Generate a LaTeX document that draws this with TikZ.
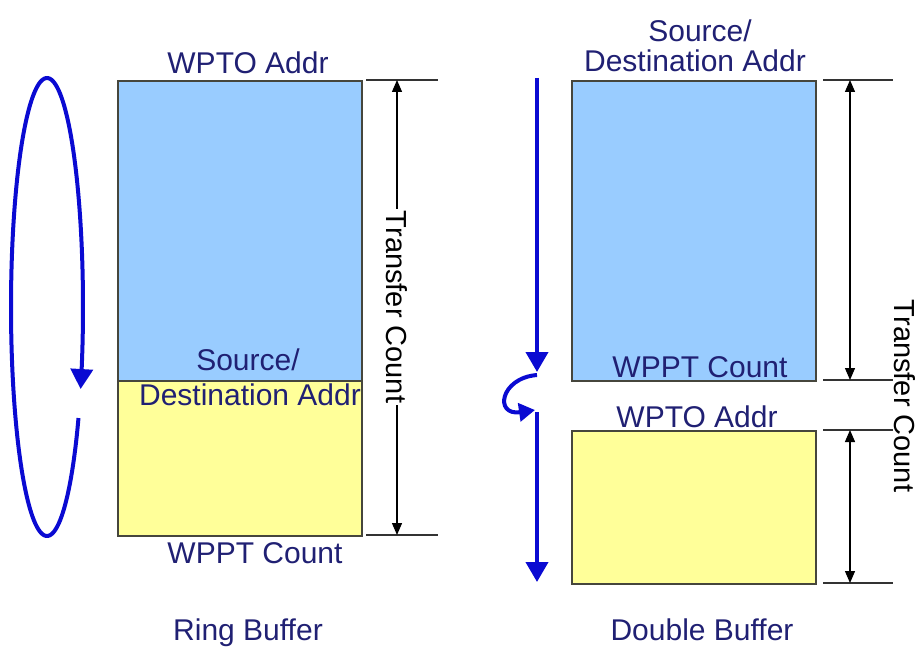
\documentclass[tikz,border=0pt]{standalone}
\usepackage{fontspec}
\setmainfont{Liberation Sans}
\usetikzlibrary{arrows.meta}
\definecolor{blueF}{HTML}{99CCFF}
\definecolor{yellowF}{HTML}{FFFF99}
\definecolor{navy}{RGB}{32,32,115}
\definecolor{flow}{RGB}{10,10,210}
\definecolor{edge}{RGB}{70,70,60}
\begin{document}
\begin{tikzpicture}[x=1pt,y=-1pt,
  buf/.style={draw=edge, line width=1.6pt, anchor=north west, inner sep=0pt},
  lbl/.style={text=navy, font=\fontsize{30}{36}\selectfont, anchor=base, inner sep=0pt},
  dimtxt/.style={text=black, font=\fontsize{29}{34}\selectfont, rotate=-90, inner sep=2pt},
  ext/.style={draw=black!80, line width=1.3pt},
  dimarrow/.style={draw=black, line width=1.3pt, {Triangle[width=10pt,length=12pt]}-{Triangle[width=10pt,length=12pt]}},
  flowline/.style={draw=flow, line width=4pt, -{Triangle[width=22pt,length=20pt]}},
  hookline/.style={draw=flow, line width=4pt, -{Triangle[width=18pt,length=16pt]}}
]
\useasboundingbox (0,0) rectangle (924,650);

% ---------- Ring buffer ----------
\node[buf, fill=blueF, minimum width=244pt, minimum height=300pt] (rtop) at (117,80) {};
\node[buf, fill=yellowF, minimum width=244pt, minimum height=155pt] (rbot) at (117,380) {};

\node[lbl] (rwpto) at (248,74) {WPTO Addr};
\node[lbl] (rsrc) at (248,370) {Source/};
\node[lbl] (rdst) at (250,405) {Destination Addr};
\node[lbl] (rwppt) at (255,563) {WPPT Count};
\node[lbl] (rname) at (248,640) {Ring Buffer};

\coordinate (rl1a) at (366,80);  \coordinate (rl1b) at (438,80);
\coordinate (rl2a) at (366,535); \coordinate (rl2b) at (438,535);
\coordinate (rda) at (397,80);   \coordinate (rdb) at (397,535);
\draw[ext] (rl1a) -- (rl1b);
\draw[ext] (rl2a) -- (rl2b);
\draw[dimarrow] (rda) -- (rdb);
\node[dimtxt, fill=white] (rtc) at (397,307) {Transfer Count};

% ring loop
\draw[flowline] plot[domain=29:381, samples=160, smooth] ({47+36*cos(\x)}, {307+229*sin(\x)});

% ---------- Double buffer ----------
\node[buf, fill=blueF, minimum width=244pt, minimum height=300pt] (dtop) at (571,80) {};
\node[buf, fill=yellowF, minimum width=244pt, minimum height=153pt] (dbot) at (571,430) {};

\node[lbl] (dsrc) at (700,42) {Source/};
\node[lbl] (ddst) at (695,72) {Destination Addr};
\node[lbl] (dwppt) at (700,377) {WPPT Count};
\node[lbl] (dwpto) at (697,427) {WPTO Addr};
\node[lbl] (dname) at (702,640) {Double Buffer};

\foreach \yy/\nm in {80/a,380/b,430/c,583/d}{
  \coordinate (dl\nm1) at (823,\yy);
  \coordinate (dl\nm2) at (893,\yy);
  \draw[ext] (dl\nm1) -- (dl\nm2);
}
\coordinate (dd1) at (850,80);  \coordinate (dd2) at (850,380);
\coordinate (dd3) at (850,430); \coordinate (dd4) at (850,583);
\draw[dimarrow] (dd1) -- (dd2);
\draw[dimarrow] (dd3) -- (dd4);
\node[dimtxt] (dtc) at (905,396) {Transfer Count};

\coordinate (f1) at (537,78);  \coordinate (f2) at (537,372);
\coordinate (f3) at (537,375); \coordinate (f4) at (535,410);
\coordinate (f5) at (537,412); \coordinate (f6) at (537,582);
\draw[flowline] (f1) -- (f2);
\draw[hookline] (f3) .. controls (500,378) and (494,416) .. (f4);
\draw[flowline] (f5) -- (f6);
\end{tikzpicture}
\end{document}
